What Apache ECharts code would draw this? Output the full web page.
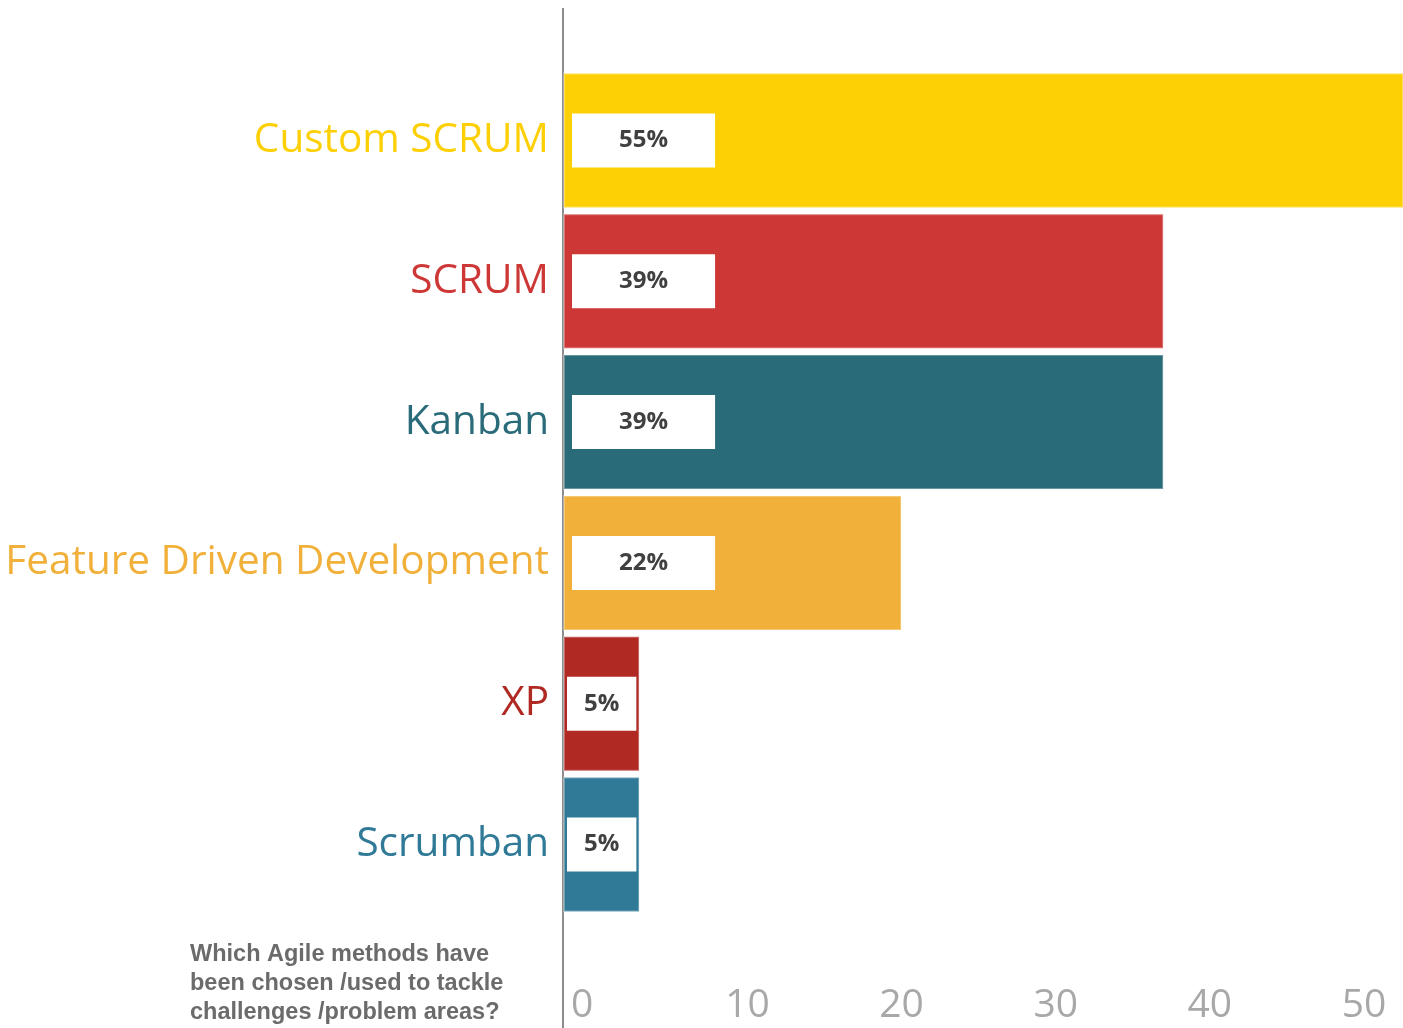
<!DOCTYPE html>
<html>
<head>
<meta charset="utf-8">
<script src="https://cdn.jsdelivr.net/npm/echarts@6/dist/echarts.min.js"></script>
<style>
  html, body { margin: 0; padding: 0; background: #fff; }
  #chart { width: 1403px; height: 1028px; }
</style>
</head>
<body>
<div id="chart"></div>
<script>
// categories top to bottom
const methods = ['Custom SCRUM', 'SCRUM', 'Kanban', 'Feature Driven Development', 'XP', 'Scrumban'];
const shares = [55, 39, 39, 22, 5, 5];
const barColors = ['#FDD005', '#CD3836', '#2A6B7A', '#F0B03A', '#B02A23', '#307A97'];
const xTicks = [0, 10, 20, 30, 40, 50];
const question = 'Which Agile methods have\nbeen chosen /used to tackle\nchallenges /problem areas?';

const labelFont = '"Open Sans", "Noto Sans", sans-serif';

let myChart = echarts.init(document.getElementById('chart'));

let option = {
  animation: false,
  grid: {
    left: 563,
    right: 0,
    top: 70,
    bottom: 113,
    outerBoundsMode: 'none',
    containLabel: false
  },
  xAxis: {
    type: 'value',
    min: 0,
    max: 54.5,
    interval: 10,
    axisLine: { show: false },
    axisTick: { show: false },
    splitLine: { show: false },
    axisLabel: {
      // only draw the listed tick labels
      formatter: v => xTicks.indexOf(v) >= 0 ? String(v) : '',
      align: 'left',
      margin: 71,
      padding: [0, 0, 0, 8],
      color: '#a8a8a8',
      fontSize: 39,
      fontFamily: labelFont
    }
  },
  yAxis: {
    type: 'category',
    inverse: true,
    data: methods.map((m, i) => ({
      value: m,
      textStyle: { color: barColors[i] }
    })),
    axisLine: { show: true, lineStyle: { color: '#8c8c8c', width: 2 } },
    axisTick: { show: false },
    axisLabel: {
      margin: 14,
      fontSize: 40.5,
      fontFamily: labelFont
    }
  },
  graphic: [
    { // axis line runs past the plot area
      type: 'line',
      shape: { x1: 563, y1: 8, x2: 563, y2: 1028 },
      style: { stroke: '#8c8c8c', lineWidth: 2 },
      z: 0
    },
    {
      type: 'text',
      left: 190,
      top: 940,
      style: {
        text: question,
        fill: '#6b6b6b',
        font: 'bold 23.5px "Liberation Sans", Arial, sans-serif',
        lineHeight: 29
      }
    }
  ],
  series: [{
    type: 'bar',
    barWidth: 136,
    data: shares.map((v, i) => ({
      value: v,
      itemStyle: { color: barColors[i] },
      label: {
        distance: v < 10 ? 4 : 9,
        padding: v < 10 ? [16, 17, 14, 17] : [16, 47, 14, 47]
      }
    })),
    itemStyle: {
      borderColor: 'rgba(255,255,255,0.3)',
      borderWidth: 2
    },
    label: {
      show: true,
      position: 'insideLeft',
      formatter: '{c}%',
      backgroundColor: '#fff',
      color: '#404040',
      fontSize: 24,
      fontWeight: 'bold',
      fontFamily: '"Open Sans", sans-serif'
    }
  }]
};

myChart.setOption(option);
window.addEventListener('resize', function () {
  myChart.resize();
});
</script>
</body>
</html>
